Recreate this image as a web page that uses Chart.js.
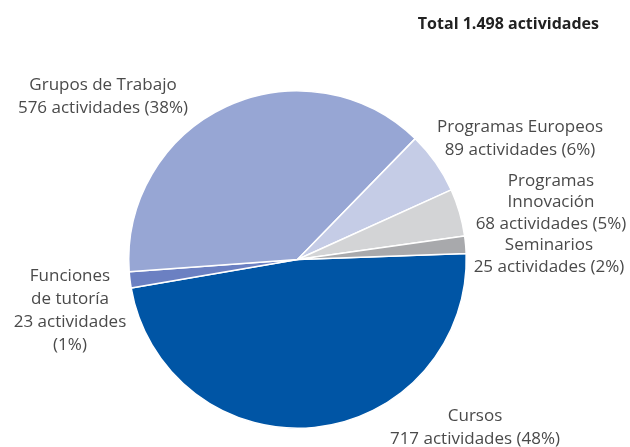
<!DOCTYPE html>
<html>
<head>
<meta charset="utf-8">
<script src="https://cdn.jsdelivr.net/npm/chart.js@4.4.0/dist/chart.umd.min.js"></script>
<style>
  html, body { margin: 0; padding: 0; background: #fff; }
  #wrap { width: 630px; height: 447px; position: relative; }
</style>
</head>
<body>
<div id="wrap"><canvas id="pie"></canvas></div>
<script>
// Datos del gráfico
const categorias = ['Cursos', 'Funciones de tutoría', 'Grupos de Trabajo', 'Programas Europeos', 'Programas Innovación', 'Seminarios'];
const actividades = [717, 23, 576, 89, 68, 25];
const porcentajes = ['48%', '1%', '38%', '6%', '5%', '2%'];
const colores = ['#0055a5', '#6b80c2', '#97a6d4', '#c5cce6', '#d3d4d6', '#a8a9ac'];
const titulo = 'Total 1.498 actividades';

// Líneas de cada etiqueta
const etiquetas = [
    ['Cursos', '717 actividades (48%)'],
    ['Funciones', 'de tutoría', '23 actividades', '(1%)'],
    ['Grupos de Trabajo', '576 actividades (38%)'],
    ['Programas Europeos', '89 actividades (6%)'],
    ['Programas', 'Innovación', '68 actividades (5%)'],
    ['Seminarios', '25 actividades (2%)']
];

// Posición (centro de la primera línea) e interlineado de cada etiqueta
const posEtiquetas = [
    { x: 475, y: 416, lh: 23 },
    { x: 70, y: 276, lh: 23 },
    { x: 103, y: 85, lh: 23 },
    { x: 520, y: 127, lh: 23 },
    { x: 551, y: 181, lh: 21.5 },
    { x: 549, y: 245, lh: 22 }
];

const FUENTE = '"Open Sans", sans-serif';

const pluginEtiquetas = {
    id: 'etiquetas',
    afterDraw(chart) {
        const ctx = chart.ctx;
        ctx.save();
        ctx.textAlign = 'center';
        ctx.textBaseline = 'middle';
        ctx.fillStyle = '#4a4a4a';
        ctx.font = '17px ' + FUENTE;
        etiquetas.forEach((lineas, i) => {
            const p = posEtiquetas[i];
            lineas.forEach((txt, j) => {
                ctx.fillText(txt, p.x, p.y + j * p.lh);
            });
        });
        // Título
        ctx.textAlign = 'right';
        ctx.fillStyle = '#222222';
        ctx.font = 'bold 16px ' + FUENTE;
        ctx.fillText(titulo, 599, 24);
        ctx.restore();
    }
};

const ctx = document.getElementById('pie').getContext('2d');
new Chart(ctx, {
    type: 'pie',
    data: {
        labels: categorias,
        datasets: [{
            data: actividades,
            backgroundColor: colores,
            borderColor: '#ffffff',
            borderWidth: 1.5
        }]
    },
    options: {
        responsive: true,
        maintainAspectRatio: false,
        animation: false,
        rotation: 88,
        layout: {
            padding: { left: 128, right: 163, top: 90, bottom: 18 }
        },
        plugins: {
            legend: { display: false },
            tooltip: { enabled: false }
        }
    },
    plugins: [pluginEtiquetas]
});
</script>
</body>
</html>
